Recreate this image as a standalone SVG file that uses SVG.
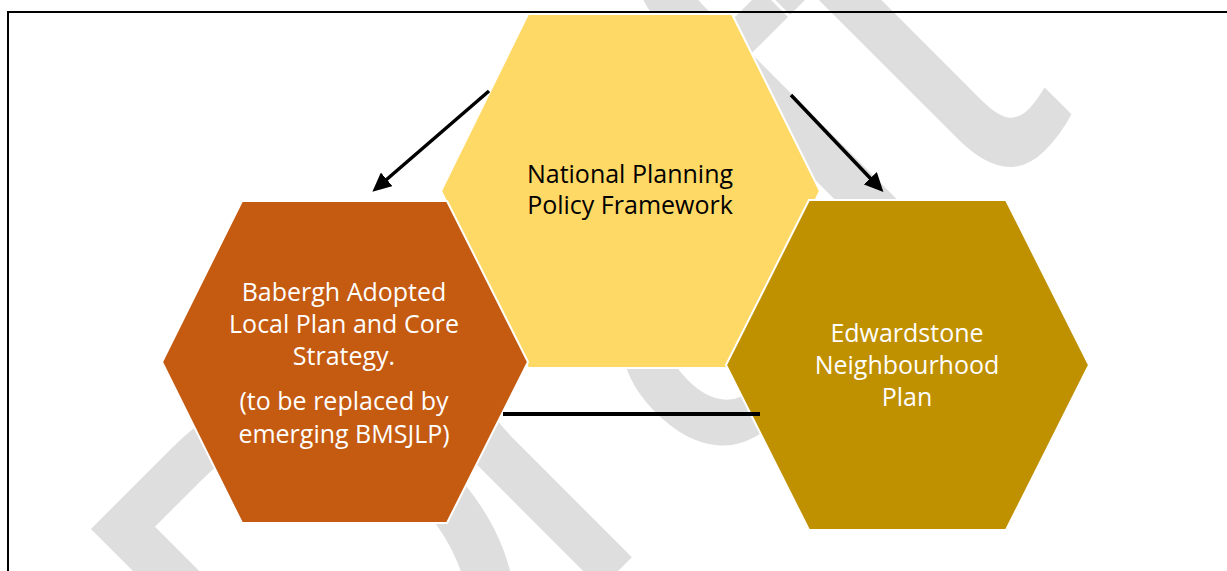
<svg xmlns="http://www.w3.org/2000/svg" width="1227" height="571" viewBox="0 0 1227 571">
<style>
.hex{stroke:#ffffff;stroke-width:2}
.lbl{font-family:"Open Sans","Liberation Sans",sans-serif;font-size:25px;text-anchor:middle}
.wt{fill:#ffffff}
.bk{fill:#000000}
.conn{stroke:#000000;stroke-width:3.5;fill:none}
</style>
<defs>
<marker id="ah" markerUnits="userSpaceOnUse" markerWidth="20" markerHeight="18" viewBox="0 0 20 18" refX="1" refY="9" orient="auto">
<path d="M0,0 L19,9 L0,18 z" fill="#000000"/>
</marker>
</defs>
<rect width="1227" height="571" fill="#ffffff"/>
<g id="watermark" transform="translate(-6,-7)">
<text x="-409 -31.4 174.4 469.8 627.9" y="850" transform="rotate(-45) scale(0.86,1)" font-family="Liberation Sans" font-size="585" fill="#dedede">Draft</text>
</g>
<rect id="frame" x="8" y="12" width="1240" height="600" fill="none" stroke="#000000" stroke-width="2"/>
<g id="nppf">
<polygon class="hex" fill="#FFD966" points="528,14 732,14 820,191 732,368 528,368 441,191"/>
<text class="lbl bk" x="630" y="183">National Planning</text>
<text class="lbl bk" x="630" y="214">Policy Framework</text>
</g>
<g id="babergh">
<polygon class="hex" fill="#C55A11" points="242,201 447,201 528,362 447,523 242,523 162,362"/>
<text class="lbl wt" x="344" y="301">Babergh Adopted</text>
<text class="lbl wt" x="344" y="333">Local Plan and Core</text>
<text class="lbl wt" x="344" y="365">Strategy.</text>
<text class="lbl wt" x="344" y="410">(to be replaced by</text>
<text class="lbl wt" x="344" y="443">emerging BMSJLP)</text>
</g>
<g id="edwardstone">
<polygon class="hex" fill="#BF9000" points="809,200 1006,200 1089,365 1006,530 809,530 726,365"/>
<text class="lbl wt" x="907" y="342">Edwardstone</text>
<text class="lbl wt" x="907" y="374">Neighbourhood</text>
<text class="lbl wt" x="907" y="406">Plan</text>
</g>
<g id="connectors">
<line class="conn" x1="489" y1="91" x2="386" y2="180" marker-end="url(#ah)"/>
<line class="conn" x1="791" y1="95" x2="871" y2="179" marker-end="url(#ah)"/>
<line class="conn" x1="503" y1="414" x2="760" y2="414" style="stroke-width:4"/>
</g>
</svg>
